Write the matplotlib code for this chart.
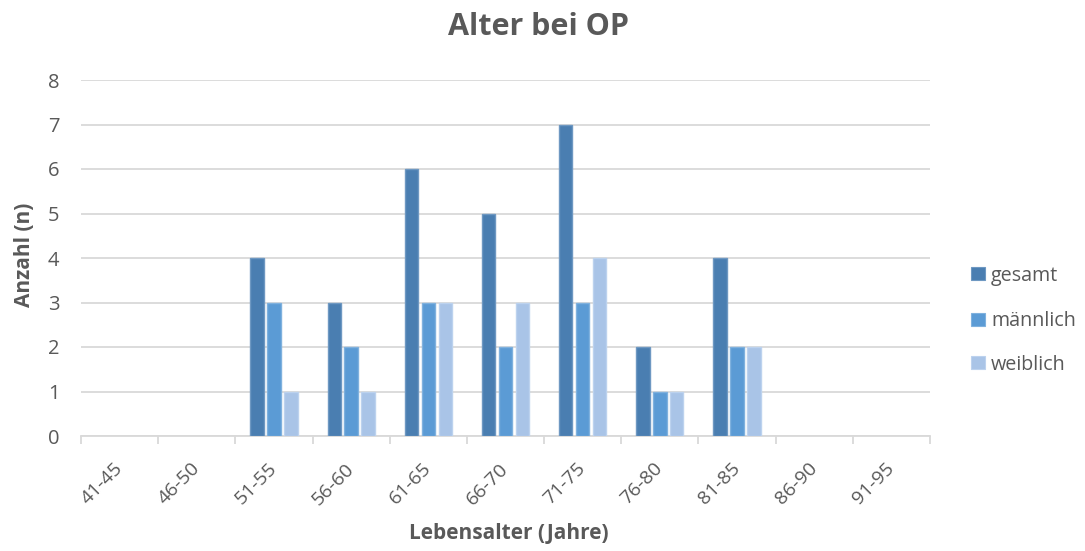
import numpy as np
import matplotlib.pyplot as plt
from matplotlib.patches import Rectangle

plt.rcParams['font.family'] = ['Open Sans', 'DejaVu Sans']

categories = ["41-45", "46-50", "51-55", "56-60", "61-65", "66-70",
              "71-75", "76-80", "81-85", "86-90", "91-95"]
gesamt = [0, 0, 4, 3, 6, 5, 7, 2, 4, 0, 0]
maennlich = [0, 0, 3, 2, 3, 2, 3, 1, 2, 0, 0]
weiblich = [0, 0, 1, 1, 3, 3, 4, 1, 2, 0, 0]

series = [("gesamt", gesamt, "#4A7EB1", "#6E98C2"),
          ("männlich", maennlich, "#5B9BD5", "#7FB1DE"),
          ("weiblich", weiblich, "#A9C4E7", "#BCD2EE")]

text_color = "#595959"
grid_color = "#D9D9D9"

W, H = 1085, 551
fig = plt.figure(figsize=(W / 100, H / 100), dpi=100)
ax = fig.add_axes([81 / W, 1 - 436 / H, (930 - 81) / W, (436 - 80) / H])

x = np.arange(len(categories))
bw = 0.172
step = 0.22
for i, (name, vals, fc, ec) in enumerate(series):
    vals = np.asarray(vals, dtype=float)
    keep = vals > 0  # empty classes get no bar outline
    ax.bar(x[keep] + (i - 1) * step, vals[keep], width=bw, color=fc,
           edgecolor=ec, linewidth=1.0, zorder=3, label=name)

ax.set_xlim(-0.5, len(categories) - 0.5)
ax.set_ylim(0, 8)
ax.set_yticks(range(0, 9))
ax.yaxis.grid(True, color=grid_color, linewidth=1.3, zorder=0)
ax.set_axisbelow(True)

for s in ["top", "right", "left"]:
    ax.spines[s].set_visible(False)
ax.spines["bottom"].set_color(grid_color)
ax.spines["bottom"].set_linewidth(1.3)

ax.tick_params(axis="y", length=0, labelsize=14.5, colors=text_color, pad=15.5)
ax.set_xticks(np.arange(-0.5, len(categories), 1.0), minor=False)
ax.set_xticklabels([])
ax.tick_params(axis="x", which="major", length=5.5, color=grid_color, width=1.3)
ax.set_xticks(x, minor=True)
ax.set_xticklabels(categories, minor=True, rotation=45, ha="right",
                   va="center", rotation_mode="anchor", fontsize=14,
                   color=text_color)
ax.tick_params(axis="x", which="minor", length=0, pad=21.5)

# axis titles and chart title
fig.text(24 / W, 1 - 254.5 / H, "Anzahl (n)", rotation=90, ha="center",
         va="center", fontsize=15, fontweight="bold", color=text_color)
fig.text(509 / W, 1 - 539 / H, "Lebensalter (Jahre)", ha="center",
         va="baseline", fontsize=15, fontweight="bold", color=text_color)
fig.text(538.5 / W, 1 - 35 / H, "Alter bei OP", ha="center",
         va="baseline", fontsize=22, fontweight="bold", color=text_color)

# legend on the right
legend_rows = [273.5, 319, 362.5]
for (name, _, fc, ec), yc in zip(series, legend_rows):
    fig.patches.append(Rectangle((971 / W, 1 - (yc + 6.5) / H), 14 / W, 13 / H,
                                 transform=fig.transFigure, facecolor=fc,
                                 edgecolor=ec, linewidth=0.8))
    fig.text(991 / W, 1 - yc / H, name, ha="left", va="center_baseline",
             fontsize=14.2, color=text_color)

fig.savefig("out.png", dpi=100)
